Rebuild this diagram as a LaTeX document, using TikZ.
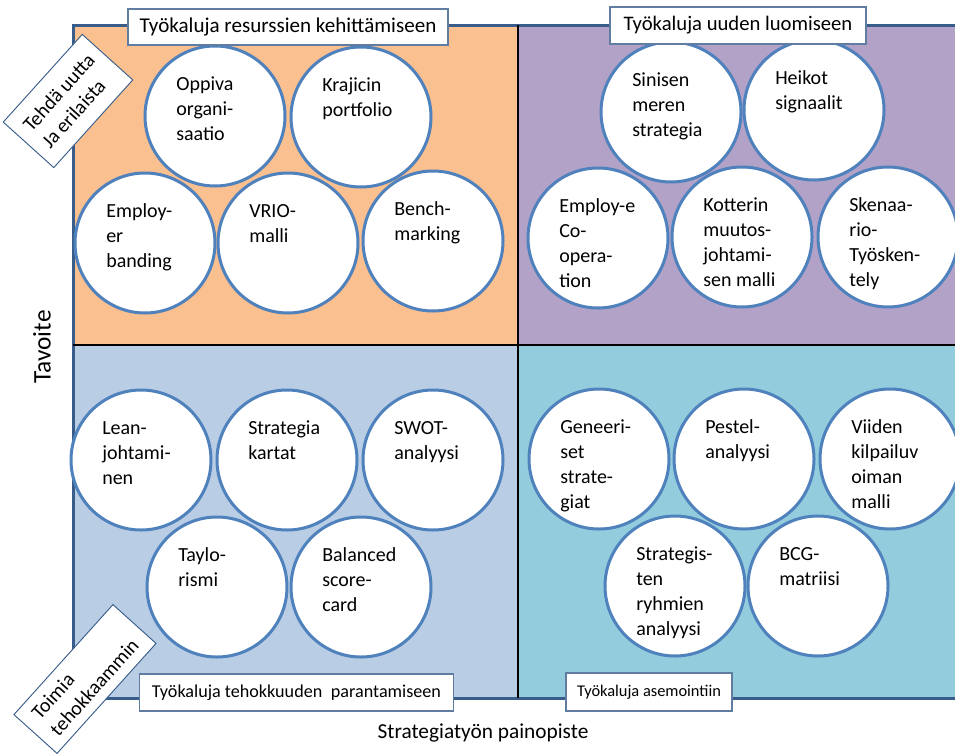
\documentclass[tikz,border=0pt]{standalone}
\usepackage{fontspec}
\setmainfont{Carlito}

\definecolor{peach}{HTML}{FAC090}
\definecolor{lilac}{HTML}{B3A2C7}
\definecolor{paleblue}{HTML}{B9CDE5}
\definecolor{aqua}{HTML}{93CDDD}
\definecolor{toolblue}{HTML}{4F81BD}
\definecolor{frameblue}{HTML}{385D8A}

\newcommand{\toolfont}{\fontsize{15}{18.75}\selectfont}
\newcommand{\toollines}[1]{\begin{tabular}[t]{@{}l@{}}#1\end{tabular}}

\tikzset{
	tool/.style={circle, draw=toolblue, fill=white, line width=2.25pt, minimum size=105pt, inner sep=0pt},
	tooltext/.style={anchor=base west, inner sep=0pt, font=\toolfont},
	header/.style={draw=frameblue!80, fill=white, line width=0.9pt, inner sep=0pt, font=\toolfont},
	sidebox/.style={draw=frameblue, fill=white, line width=0.7pt, rotate=48, align=left, inner sep=0pt, font=\toolfont}
}

\begin{document}
\begin{tikzpicture}[x=0.75pt, y=-0.75pt]
	\def\textdx{-39} % Text offset from the circle centre
	\def\textdy{-26}
	% The tools: name/x/y/text
	\def\toollist{
		oppiva/215/116/{Oppiva\\organi-\\saatio},
		krajicin/361/117/{Krajicin\\portfolio},
		employer/145/243/{Employ-\\er\\banding},
		vrio/288/243/{VRIO-\\malli},
		bench/433/241/{Bench-\\marking},
		sinisen/671/112/{Sinisen\\meren\\strategia},
		heikot/814/110/{Heikot\\signaalit},
		employe/598/238/{Employ-e\\Co-\\opera-\\tion},
		kotterin/742/237/{Kotterin\\muutos-\\johtami-\\sen malli},
		skenaario/888/237/{Skenaa-\\rio-\\Työsken-\\tely},
		lean/141/460/{Lean-\\johtami-\\nen},
		kartat/287/460/{Strategia\\kartat},
		swot/433/460/{SWOT-\\analyysi},
		taylor/217/587/{Taylo-\\rismi},
		balanced/361/587/{Balanced\\score-\\card},
		geneeri/599/459/{Geneeri-\\set\\strate-\\giat},
		pestel/744/459/{Pestel-\\analyysi},
		viiden/890/459/{Viiden\\kilpailuv\\oiman\\malli},
		ryhmien/675/586/{Strategis-\\ten\\ryhmien\\analyysi},
		bcg/818/586/{BCG-\\matriisi}}
	
	% Page size
	\clip (0,0) rectangle (955,753);
	
	% Draw the four fields
	\fill[peach] (73,25) rectangle (518,345);
	\fill[lilac] (518,25) rectangle (970,345);
	\fill[paleblue] (73,345) rectangle (518,698);
	\fill[aqua] (518,345) rectangle (970,698);
	\draw[frameblue, line width=2.25pt] (970,25) -- (73,25) -- (73,698) -- (970,698);
	
	% Middle lines
	\draw[black, line width=1.5pt] (518,25) -- (518,698);
	\draw[black, line width=1.5pt] (73,345) -- (970,345);
	
	% Place the tool circles
	\foreach \nm/\cx/\cy/\txt in \toollist {
		\node[tool] (\nm) at (\cx,\cy) {};
	}
	
	% Place the texts inside the circles
	\foreach \nm/\cx/\cy/\txt in \toollist {
		\node[tooltext] (\nm-text) at ([shift={(\textdx,\textdy)}]\nm.center) {\toollines{\txt}};
	}
	
	% Field headers
	\node[header, minimum width=240pt, minimum height=27pt, font=\fontsize{15.8}{19}\selectfont] (resurssit) at (288,27) {Työkaluja resurssien kehittämiseen};
	\node[header, minimum width=192pt, minimum height=27.75pt, font=\fontsize{15.5}{19}\selectfont] (uusi) at (738,25.5) {Työkaluja uuden luomiseen};
	\node[header, minimum width=236pt, minimum height=27.75pt, font=\fontsize{13.6}{17}\selectfont] (tehokkuus) at (296.5,692.5) {Työkaluja tehokkuuden\hspace{0.25em} parantamiseen};
	\node[header, minimum width=124.5pt, minimum height=28.5pt, font=\fontsize{12.3}{15}\selectfont] (asemointi) at (649,692) {Työkaluja asemointiin};
	
	% Labels of the goal axis
	\node[sidebox, minimum width=88.5pt, minimum height=51pt] (erilaista) at (68,101) {Tehdä uutta\\Ja erilaista};
	\node[sidebox, minimum width=111pt, minimum height=43.5pt] (tehokkaammin) at (85,679) {Toimia\\tehokkaammin};
	
	% Axis titles
	\node[rotate=90, font=\fontsize{19}{23}\selectfont] (tavoite) at (42,347) {Tavoite};
	\node[font=\fontsize{16}{20}\selectfont] (painopiste) at (483,733) {Strategiatyön painopiste};
\end{tikzpicture}
\end{document}
